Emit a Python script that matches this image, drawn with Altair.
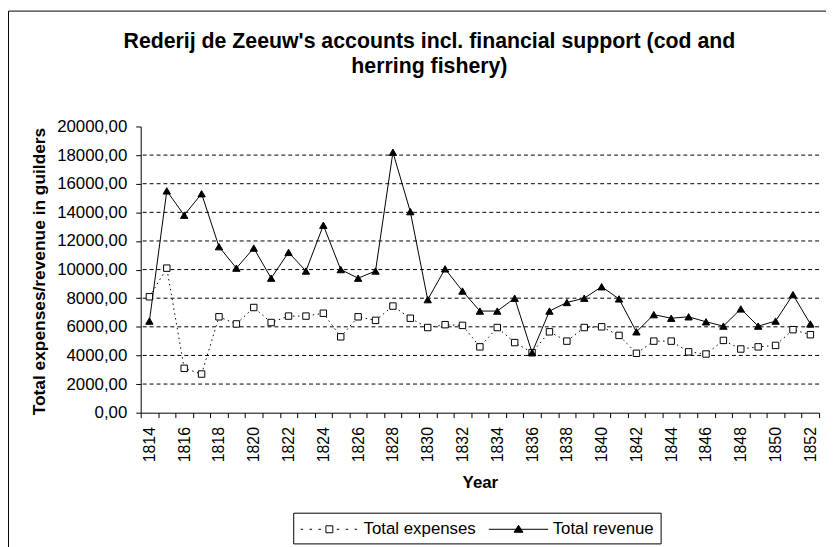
import altair as alt
import pandas as pd

years = list(range(1814, 1853))
expenses = [8100, 10100, 3100, 2700, 6700, 6200, 7350, 6300, 6750, 6750, 6950, 5300, 6700,
            6450, 7450, 6600, 5950, 6150, 6100, 4600, 5950, 4900, 4200, 5650, 5000, 5950,
            6000, 5400, 4150, 5000, 5000, 4250, 4100, 5050, 4450, 4600, 4700, 5800, 5450]
revenue = [6400, 15500, 13800, 15300, 11600, 10100, 11500, 9400, 11200, 9900, 13100, 10000, 9400,
           9900, 18200, 14050, 7900, 10050, 8500, 7100, 7100, 8000, 4200, 7100, 7700, 8000,
           8800, 7950, 5650, 6850, 6600, 6700, 6350, 6050, 7250, 6050, 6400, 8250, 6200]
series_names = ["Total expenses", "Total revenue"]
y_ticks = [0, 2000, 4000, 6000, 8000, 10000, 12000, 14000, 16000, 18000, 20000]
grid_values = [2000, 4000, 6000, 8000, 10000, 12000, 14000, 16000, 18000]

FONT = "Liberation Sans"

exp_df = pd.DataFrame({"year": years, "value": expenses, "series": series_names[0]})
rev_df = pd.DataFrame({"year": years, "value": revenue, "series": series_names[1]})
long_df = pd.concat([exp_df, rev_df], ignore_index=True)
grid_df = pd.DataFrame({"value": grid_values})

y_title = "Total expenses/revenue in guilders"

x_enc = alt.X(
    "year:O",
    title="Year",
    scale=alt.Scale(type="band", paddingInner=0, paddingOuter=0),
    axis=alt.Axis(
        labelAngle=270, labelAlign="right", labelBaseline="middle",
        tickBand="extent", labelOverlap=False,
        labelExpr="datum.value % 2 == 0 ? datum.label : ''",
        labelFont=FONT, labelFontSize=16, labelColor="black", labelPadding=9,
        tickSize=5, tickColor="black", domainColor="black",
        titleFont=FONT, titleFontSize=17, titleFontWeight="bold", titleColor="black",
        titleBaseline="alphabetic", titleY=76,
    ),
)

def y_enc():
    return alt.Y(
        "value:Q",
        title=y_title,
        scale=alt.Scale(domain=[0, 20000], nice=False),
        axis=alt.Axis(
            values=y_ticks, grid=False,
            labelExpr="replace(format(datum.value, '.2f'), '.', ',')",
            labelFont=FONT, labelFontSize=17, labelColor="black", labelPadding=9,
            tickSize=5, tickColor="black", domainColor="black",
            titleFont=FONT, titleFontSize=17.5, titleFontWeight="bold", titleColor="black",
            titleAngle=270, titleBaseline="alphabetic", titleAlign="center",
            titleX=-97, titleY=146,
        ),
    )

grid = alt.Chart(grid_df).mark_rule(color="black", strokeWidth=1, strokeDash=[4, 3]).encode(
    y=y_enc()
)

exp_line = alt.Chart(exp_df).mark_line(color="black", strokeWidth=1, strokeDash=[1.5, 3.5]).encode(
    x=x_enc, y=y_enc()
)
exp_pts = alt.Chart(exp_df).mark_point(shape="square", filled=True, fill="white", stroke="black",
                                       strokeWidth=1, size=42, opacity=1).encode(x=x_enc, y=y_enc())
rev_line = alt.Chart(rev_df).mark_line(color="black", strokeWidth=1).encode(x=x_enc, y=y_enc())
rev_pts = alt.Chart(rev_df).mark_point(shape="triangle-up", filled=True, fill="black", stroke="black",
                                       strokeWidth=1, size=55, opacity=1).encode(x=x_enc, y=y_enc())

# legend symbols: one unit = 10 px, drawn from 0 px to 60 px of each entry
exp_symbol = ("M-0.9,0h0.25M0,0h0.25M0.9,0h0.25"
              "M2.75,0h0.25M3.65,0h0.25M4.55,0h0.25"
              "M1.65,-0.35H2.35V0.35H1.65Z")
rev_symbol = "M-1,0H5M2,-0.4L2.45,0.3L1.55,0.3Z"

leg = alt.Legend(
    title=None, orient="none", legendX=154, legendY=390, direction="horizontal",
    symbolSize=400, symbolStrokeColor="black", symbolStrokeWidth=1, symbolOpacity=1,
    labelFont=FONT, labelFontSize=17, labelColor="black", labelOffset=44,
    strokeColor="black", padding=6, columnPadding=10,
)

legend_layer = alt.Chart(long_df).transform_filter("datum.year < 0").mark_point(
    filled=True, strokeWidth=1, opacity=1
).encode(
    shape=alt.Shape("series:N", scale=alt.Scale(domain=series_names, range=[exp_symbol, rev_symbol]), legend=leg),
    fill=alt.Fill("series:N", scale=alt.Scale(domain=series_names, range=["white", "black"]), legend=leg),
    stroke=alt.Stroke("series:N", scale=alt.Scale(domain=series_names, range=["black", "black"]), legend=leg),
)

# chart-area frame (left and top edges, as in the source image)
frame_df = pd.DataFrame({"edge": ["frame"]})
frame_left = alt.Chart(frame_df).mark_rule(color="black", strokeWidth=1).encode(
    x=alt.value(-133.5), y=alt.value(-116.5), y2=alt.value(430)
)
frame_top = alt.Chart(frame_df).mark_rule(color="black", strokeWidth=1).encode(
    x=alt.value(-133.5), x2=alt.value(700), y=alt.value(-116.5)
)

chart = alt.layer(grid, exp_line, exp_pts, rev_line, rev_pts, legend_layer, frame_left, frame_top).properties(
    width=685,
    height=289,
    padding={"left": 134, "top": 117, "right": 7, "bottom": 133},
    autosize=alt.AutoSizeParams(type="none"),
    background="white",
    title=alt.TitleParams(
        text=["Rederij de Zeeuw's accounts incl. financial support (cod and", "herring fishery)"],
        font=FONT, fontSize=21.5, fontWeight="bold", color="black",
        anchor="middle", dx=-51, offset=0, dy=68, lineHeight=26,
    ),
).configure_view(stroke="transparent")

chart.save("out.html", embed_options={"renderer": "svg", "actions": False})
